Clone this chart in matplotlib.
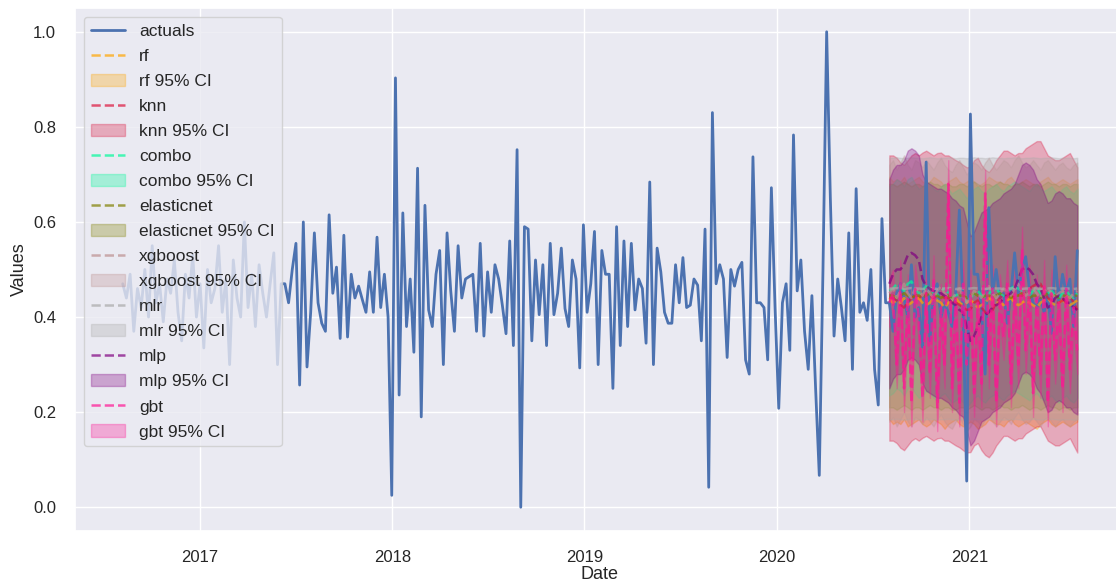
import numpy as np
import pandas as pd
import matplotlib
matplotlib.use("Agg")
import matplotlib.pyplot as plt
import seaborn as sns

# weekly observations, Aug 2016 - Jul 2021
start_date = "2016-08-07"
actuals = [
    # 2016 - mid 2017
    0.47, 0.44, 0.49, 0.37, 0.46, 0.42, 0.50, 0.40, 0.55, 0.43,
    0.47, 0.39, 0.48, 0.45, 0.52, 0.41, 0.35, 0.49, 0.44, 0.53,
    0.40, 0.47, 0.335, 0.50, 0.43, 0.46, 0.55, 0.41, 0.48, 0.30,
    0.52, 0.44, 0.40, 0.60, 0.42, 0.49, 0.38, 0.51, 0.45, 0.40,
    0.47, 0.535, 0.30,
    # mid 2017 - mid 2018
    0.47, 0.47, 0.43, 0.50, 0.555, 0.257, 0.60, 0.295, 0.41, 0.577,
    0.43, 0.387, 0.37, 0.615, 0.45, 0.505, 0.355, 0.572, 0.358, 0.49,
    0.44, 0.465, 0.437, 0.41, 0.495, 0.41, 0.568, 0.42, 0.49, 0.40,
    0.025, 0.903, 0.236, 0.619, 0.38, 0.48, 0.326, 0.713, 0.19, 0.635,
    0.415, 0.38, 0.49, 0.54, 0.30, 0.577, 0.455, 0.37, 0.55, 0.44,
    0.48, 0.485,
    # mid 2018 - mid 2019
    0.49, 0.37, 0.555, 0.36, 0.495, 0.41, 0.51, 0.48, 0.425, 0.365,
    0.56, 0.34, 0.752, 0.0, 0.59, 0.585, 0.35, 0.52, 0.405, 0.51,
    0.34, 0.555, 0.405, 0.45, 0.545, 0.418, 0.38, 0.52, 0.48, 0.293,
    0.594, 0.41, 0.47, 0.58, 0.30, 0.54, 0.49, 0.49, 0.25, 0.59,
    0.34, 0.56, 0.38, 0.555, 0.415, 0.48, 0.46, 0.345, 0.684, 0.30,
    0.545, 0.495, 0.41,
    # mid 2019 - Aug 2020
    0.387, 0.387, 0.51, 0.43, 0.525, 0.42, 0.425, 0.48, 0.467, 0.35,
    0.585, 0.042, 0.83, 0.47, 0.51, 0.48, 0.315, 0.50, 0.465, 0.50,
    0.515, 0.31, 0.28, 0.737, 0.43, 0.43, 0.42, 0.31, 0.672, 0.42,
    0.208, 0.43, 0.47, 0.33, 0.783, 0.455, 0.52, 0.37, 0.29, 0.445,
    0.25, 0.067, 0.50, 1.0, 0.65, 0.36, 0.48, 0.42, 0.35, 0.577,
    0.29, 0.67, 0.41, 0.43, 0.393, 0.50, 0.29, 0.215, 0.607, 0.43,
    0.43,
    # test period
    0.37, 0.45, 0.47, 0.44, 0.40, 0.51, 0.40, 0.42, 0.337, 0.726,
    0.35, 0.45, 0.47, 0.40, 0.43, 0.41, 0.38, 0.45, 0.625, 0.42,
    0.055, 0.827, 0.49, 0.49, 0.42, 0.28, 0.63, 0.45, 0.50, 0.44,
    0.45, 0.387, 0.45, 0.535, 0.45, 0.50, 0.527, 0.46, 0.43, 0.42,
    0.44, 0.41, 0.45, 0.366, 0.527, 0.43, 0.49, 0.45, 0.48, 0.38,
    0.54,
]
forecast_start = 208  # index of first forecast week

# model forecasts over the test period
rf = [0.44, 0.43, 0.435, 0.43, 0.44, 0.425, 0.43, 0.435, 0.44, 0.43,
      0.425, 0.43, 0.44, 0.435, 0.43, 0.42, 0.43, 0.435, 0.44, 0.43,
      0.425, 0.43, 0.435, 0.43, 0.42, 0.425, 0.43, 0.44, 0.435, 0.43,
      0.43, 0.425, 0.435, 0.44, 0.43, 0.425, 0.43, 0.435, 0.43, 0.425,
      0.42, 0.43, 0.435, 0.44, 0.43, 0.425, 0.43, 0.435, 0.43, 0.425,
      0.43, 0.435]
knn = [0.44, 0.44, 0.435, 0.425, 0.42, 0.43, 0.44, 0.445, 0.44, 0.446,
       0.45, 0.445, 0.44, 0.445, 0.446, 0.44, 0.44, 0.435, 0.43, 0.426,
       0.42, 0.415, 0.416, 0.43, 0.435, 0.42, 0.41, 0.405, 0.415, 0.43,
       0.44, 0.45, 0.45, 0.445, 0.44, 0.445, 0.445, 0.455, 0.46, 0.465,
       0.47, 0.47, 0.455, 0.44, 0.435, 0.43, 0.43, 0.435, 0.44, 0.445,
       0.43, 0.415]
combo = [0.455, 0.46, 0.47, 0.465, 0.455, 0.47, 0.475, 0.46, 0.45, 0.455,
         0.465, 0.46, 0.45, 0.445, 0.455, 0.46, 0.45, 0.44, 0.445, 0.45,
         0.44, 0.43, 0.44, 0.45, 0.455, 0.445, 0.44, 0.45, 0.455, 0.46,
         0.45, 0.445, 0.455, 0.46, 0.465, 0.46, 0.455, 0.45, 0.445, 0.455,
         0.46, 0.45, 0.445, 0.45, 0.455, 0.445, 0.44, 0.45, 0.455, 0.445,
         0.44, 0.45]
elasticnet = [0.445, 0.445, 0.44, 0.445, 0.45, 0.445, 0.44, 0.445, 0.445, 0.44,
              0.445, 0.45, 0.445, 0.445, 0.44, 0.445, 0.445, 0.44, 0.44, 0.445,
              0.445, 0.44, 0.445, 0.45, 0.445, 0.44, 0.445, 0.445, 0.44, 0.445,
              0.45, 0.445, 0.445, 0.44, 0.445, 0.445, 0.45, 0.445, 0.44, 0.445,
              0.445, 0.44, 0.445, 0.45, 0.445, 0.445, 0.44, 0.445, 0.445, 0.44,
              0.445, 0.445]
xgboost = [0.45, 0.46, 0.44, 0.455, 0.47, 0.45, 0.44, 0.46, 0.455, 0.445,
           0.46, 0.45, 0.44, 0.455, 0.465, 0.45, 0.44, 0.435, 0.45, 0.46,
           0.445, 0.43, 0.44, 0.455, 0.45, 0.44, 0.455, 0.465, 0.45, 0.44,
           0.45, 0.46, 0.455, 0.445, 0.46, 0.47, 0.455, 0.445, 0.45, 0.46,
           0.45, 0.44, 0.455, 0.46, 0.45, 0.44, 0.45, 0.455, 0.445, 0.44,
           0.45, 0.455]
mlr = [0.46, 0.46, 0.461, 0.46, 0.459, 0.46, 0.461, 0.46, 0.46, 0.459,
       0.46, 0.461, 0.46, 0.459, 0.46, 0.46, 0.461, 0.46, 0.459, 0.46,
       0.46, 0.459, 0.46, 0.461, 0.46, 0.46, 0.459, 0.46, 0.461, 0.46,
       0.46, 0.459, 0.46, 0.46, 0.461, 0.46, 0.459, 0.46, 0.46, 0.461,
       0.46, 0.459, 0.46, 0.46, 0.461, 0.46, 0.459, 0.46, 0.46, 0.46,
       0.459, 0.46]
mlp = [0.47, 0.49, 0.50, 0.50, 0.51, 0.53, 0.535, 0.53, 0.52, 0.48,
       0.465, 0.46, 0.455, 0.45, 0.45, 0.445, 0.44, 0.43, 0.425, 0.415,
       0.41, 0.38, 0.35, 0.36, 0.38, 0.40, 0.405, 0.41, 0.42, 0.425,
       0.43, 0.44, 0.445, 0.45, 0.46, 0.48, 0.50, 0.505, 0.50, 0.49,
       0.47, 0.46, 0.44, 0.42, 0.425, 0.44, 0.445, 0.44, 0.43, 0.43,
       0.42, 0.415]
gbt = [0.43, 0.45, 0.30, 0.47, 0.25, 0.44, 0.22, 0.46, 0.40, 0.23,
       0.45, 0.28, 0.48, 0.21, 0.42, 0.30, 0.68, 0.25, 0.44, 0.22,
       0.47, 0.30, 0.45, 0.24, 0.43, 0.26, 0.66, 0.30, 0.46, 0.22,
       0.44, 0.36, 0.47, 0.26, 0.45, 0.30, 0.54, 0.33, 0.46, 0.24,
       0.44, 0.28, 0.47, 0.22, 0.45, 0.31, 0.43, 0.25, 0.46, 0.29,
       0.42, 0.33]

model_names = ["rf", "knn", "combo", "elasticnet", "xgboost", "mlr", "mlp", "gbt"]
model_preds = [rf, knn, combo, elasticnet, xgboost, mlr, mlp, gbt]
# half width of each model's 95% interval
ci_half = [0.255, 0.30, 0.22, 0.235, 0.27, 0.275, 0.22, 0.05]
model_colors = ["orange", "crimson", "mediumspringgreen", "olive",
                "rosybrown", "darkgray", "purple", "deeppink"]

sns.set_theme(style="darkgrid")
plt.rcParams["font.family"] = ["Liberation Sans", "DejaVu Sans"]
plt.rcParams["xtick.major.pad"] = 7.6
plt.rcParams["ytick.major.pad"] = 7.6

dates = pd.date_range(start_date, periods=len(actuals), freq="W")
fc_dates = dates[forecast_start:]

fig = plt.figure(figsize=(11.16, 5.84), dpi=100)
ax = fig.add_axes([75 / 1116, 53 / 584, 1050 / 1116, 523 / 584])

ax.plot(dates, actuals, color="#4c72b0", lw=2, label="actuals")
for name, pred, hw, col in zip(model_names, model_preds, ci_half, model_colors):
    pred = np.asarray(pred)
    ax.plot(fc_dates, pred, "--", color=col, alpha=0.7, lw=1.8, label=name)
    ax.fill_between(fc_dates, pred - hw, pred + hw, color=col, alpha=0.3,
                    label=f"{name} 95% CI")

ax.set_xlabel("Date", fontsize=13, labelpad=1)
ax.set_ylabel("Values", fontsize=13)
ax.tick_params(labelsize=12)
ax.legend(loc="upper left", fontsize=12.5, labelspacing=0.57)

fig.savefig("out.png", dpi=100)
